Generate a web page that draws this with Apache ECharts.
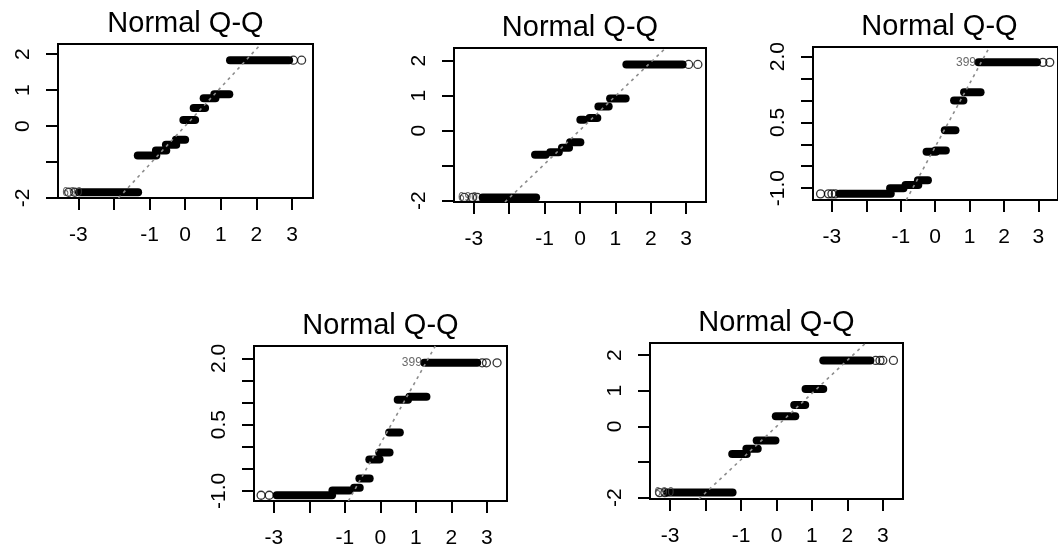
<!DOCTYPE html>
<html>
<head>
<meta charset="utf-8">
<script src="https://cdn.jsdelivr.net/npm/echarts@6/dist/echarts.min.js"></script>
<style>
  html, body { margin: 0; padding: 0; background: #fff; }
  #chart { width: 1058px; height: 552px; }
</style>
</head>
<body>
<div id="chart"></div>
<script>
// Q-Q runs: [sample value, first theoretical q, last theoretical q]
const levels1 = [
  [-1.84, -2.98, -1.32], [-0.82, -1.33, -0.81], [-0.68, -0.82, -0.53], [-0.52, -0.54, -0.25],
  [-0.38, -0.26, 0.0], [0.17, -0.05, 0.28], [0.50, 0.24, 0.56], [0.77, 0.52, 0.85],
  [0.88, 0.82, 1.24], [1.83, 1.26, 2.92]
];
const levels2 = [
  [-1.91, -2.75, -1.24], [-0.69, -1.27, -0.97], [-0.62, -0.84, -0.60], [-0.49, -0.51, -0.31],
  [-0.33, -0.28, 0.01], [0.31, 0.01, 0.11], [0.36, 0.27, 0.49], [0.69, 0.52, 0.81],
  [0.92, 0.85, 1.29], [1.89, 1.31, 2.90]
];
const levels3 = [
  [-1.13, -2.78, -1.29], [-1.0, -1.31, -0.92], [-0.93, -0.86, -0.49], [-0.82, -0.50, -0.21],
  [-0.17, -0.25, 0.02], [-0.14, 0.01, 0.31], [0.32, 0.28, 0.59], [1.0, 0.55, 0.82],
  [1.19, 0.84, 1.32], [1.87, 1.26, 2.96]
];
const levels4 = [
  [-1.10, -2.92, -1.36], [-0.99, -1.35, -0.87], [-0.93, -0.74, -0.58], [-0.72, -0.59, -0.30],
  [-0.29, -0.31, -0.02], [-0.13, -0.03, 0.26], [0.32, 0.25, 0.55], [1.06, 0.49, 0.78],
  [1.13, 0.82, 1.30], [1.90, 1.24, 2.73]
];
const levels5 = [
  [-1.86, -3.07, -1.24], [-0.78, -1.25, -0.84], [-0.63, -0.85, -0.53], [-0.40, -0.56, -0.03],
  [0.28, -0.02, 0.53], [0.60, 0.50, 0.81], [1.05, 0.82, 1.32], [1.85, 1.32, 2.65]
];

// sparse tail points drawn as open circles
const circles1 = [[-3.27, -1.84], [-3.10, -1.84], [3.04, 1.83], [3.27, 1.83]];
const circles2 = [[-3.27, -1.91], [-3.04, -1.91], [-2.90, -1.91], [3.07, 1.89], [3.33, 1.89]];
const circles3 = [[-3.33, -1.13], [-3.10, -1.13], [-3.0, -1.13], [-2.90, -1.13], [3.13, 1.87], [3.33, 1.87]];
const circles4 = [[-3.36, -1.10], [-3.13, -1.10], [2.87, 1.90], [2.99, 1.90], [3.29, 1.90]];
const circles5 = [[-3.30, -1.86], [-3.15, -1.86], [2.80, 1.85], [2.92, 1.85], [3.0, 1.85], [3.30, 1.85]];

// reference lines (qqline), two points each
const qqline1 = [[-1.87, -2.0], [2.13, 2.28]];
const qqline2 = [[-2.12, -2.04], [2.42, 2.36]];
const qqline3 = [[-0.84, -1.27], [1.58, 2.22]];
const qqline4 = [[-0.90, -1.23], [1.55, 2.28]];
const qqline5 = [[-2.19, -2.04], [2.52, 2.34]];

// point id labels: [x, y, text, side]
const ids1 = [[-3.52, -1.84, '690', 'right']];
const ids2 = [[-3.52, -1.91, '690', 'right']];
const ids3 = [[1.26, 1.87, '399', 'left']];
const ids4 = [[1.24, 1.90, '399', 'left']];
const ids5 = [[-3.52, -1.86, '690', 'right']];

const xTicks = [-3, -2, -1, 0, 1, 2, 3];
const xTickLabels = [-3, -1, 0, 1, 2, 3];
const yTicksWide = [-2, -1, 0, 1, 2];
const yLabelsWide = [-2, 0, 1, 2];
const yTicksFine = [-1.0, -0.5, 0, 0.5, 1.0, 1.5, 2.0];
const yLabelsFine = [-1.0, 0.5, 2.0];

const panelTitle = 'Normal Q-Q';

const panels = [
  { box: { left: 58, top: 44, width: 255, height: 154 }, x: [-3.57, 3.59], y: [-2.0, 2.28], fine: false,
    levels: levels1, circles: circles1, qq: qqline1, ids: ids1 },
  { box: { left: 454, top: 48, width: 252, height: 154 }, x: [-3.56, 3.56], y: [-2.04, 2.36], fine: false,
    levels: levels2, circles: circles2, qq: qqline2, ids: ids2 },
  { box: { left: 813, top: 47, width: 253, height: 153 }, x: [-3.55, 3.57], y: [-1.27, 2.22], fine: true,
    levels: levels3, circles: circles3, qq: qqline3, ids: ids3 },
  { box: { left: 254, top: 346, width: 253, height: 155 }, x: [-3.56, 3.57], y: [-1.23, 2.28], fine: true,
    levels: levels4, circles: circles4, qq: qqline4, ids: ids4 },
  { box: { left: 650, top: 343, width: 253, height: 156 }, x: [-3.57, 3.57], y: [-2.04, 2.34], fine: false,
    levels: levels5, circles: circles5, qq: qqline5, ids: ids5 }
];

const FONT = '"Liberation Sans", Arial, sans-serif';
const chart = echarts.init(document.getElementById('chart'), null, { renderer: 'canvas' });

const grids = [], xAxes = [], yAxes = [], titles = [], series = [];

panels.forEach((p, i) => {
  grids.push({
    left: p.box.left, top: p.box.top, width: p.box.width, height: p.box.height,
    show: true, borderColor: '#000', borderWidth: 2, backgroundColor: 'transparent'
  });
  titles.push({
    text: panelTitle,
    left: p.box.left + p.box.width / 2,
    top: p.box.top - 35,
    textAlign: 'center',
    padding: 0,
    textStyle: { fontFamily: FONT, fontSize: 29, fontWeight: 'normal', color: '#000' }
  });
  xAxes.push({
    type: 'value', gridIndex: i, min: p.x[0], max: p.x[1], position: 'bottom',
    axisLine: { show: false, onZero: false },
    splitLine: { show: false },
    axisTick: { show: true, inside: false, length: 12, customValues: xTicks,
      lineStyle: { color: '#000', width: 2 } },
    axisLabel: { show: true, customValues: xTickLabels, margin: 27,
      fontFamily: FONT, fontSize: 21, color: '#000', formatter: v => String(v) }
  });
  const yt = p.fine ? yTicksFine : yTicksWide;
  const yl = p.fine ? yLabelsFine : yLabelsWide;
  yAxes.push({
    type: 'value', gridIndex: i, min: p.y[0], max: p.y[1], position: 'left',
    axisLine: { show: false, onZero: false },
    splitLine: { show: false },
    axisTick: { show: true, inside: false, length: 12, customValues: yt,
      lineStyle: { color: '#000', width: 2 } },
    axisLabel: { show: true, customValues: yl, margin: 24, rotate: 90,
      fontFamily: FONT, fontSize: 21, color: '#000',
      formatter: v => p.fine ? Number(v).toFixed(1) : String(v) }
  });

  // dense runs of tied sample values
  p.levels.forEach(([y, xs, xe]) => {
    series.push({
      type: 'line', xAxisIndex: i, yAxisIndex: i,
      data: [[xs, y], [xe, y]],
      symbol: 'none', silent: true, z: 2,
      lineStyle: { color: '#000', width: 8, cap: 'round' }
    });
  });

  series.push({
    type: 'scatter', xAxisIndex: i, yAxisIndex: i,
    data: p.circles, symbol: 'circle', symbolSize: 8, z: 2,
    itemStyle: { color: 'rgba(0,0,0,0)', borderColor: '#000', borderWidth: 1.3 }
  });

  series.push({
    type: 'line', xAxisIndex: i, yAxisIndex: i,
    data: p.qq, symbol: 'none', z: 4,
    lineStyle: { color: '#8c8c8c', width: 1.6, type: [3, 4] }
  });

  series.push({
    type: 'scatter', xAxisIndex: i, yAxisIndex: i,
    data: p.ids.map(d => ({ value: [d[0], d[1], d[2]],
      label: { show: true, position: d[3], distance: 2, formatter: d[2] } })),
    symbolSize: 1, z: 5,
    itemStyle: { color: 'rgba(0,0,0,0)' },
    label: { fontFamily: FONT, fontSize: 12, color: '#444' }
  });
});

chart.setOption({
  animation: false,
  backgroundColor: '#fff',
  title: titles,
  grid: grids,
  xAxis: xAxes,
  yAxis: yAxes,
  series: series
});
</script>
</body>
</html>
